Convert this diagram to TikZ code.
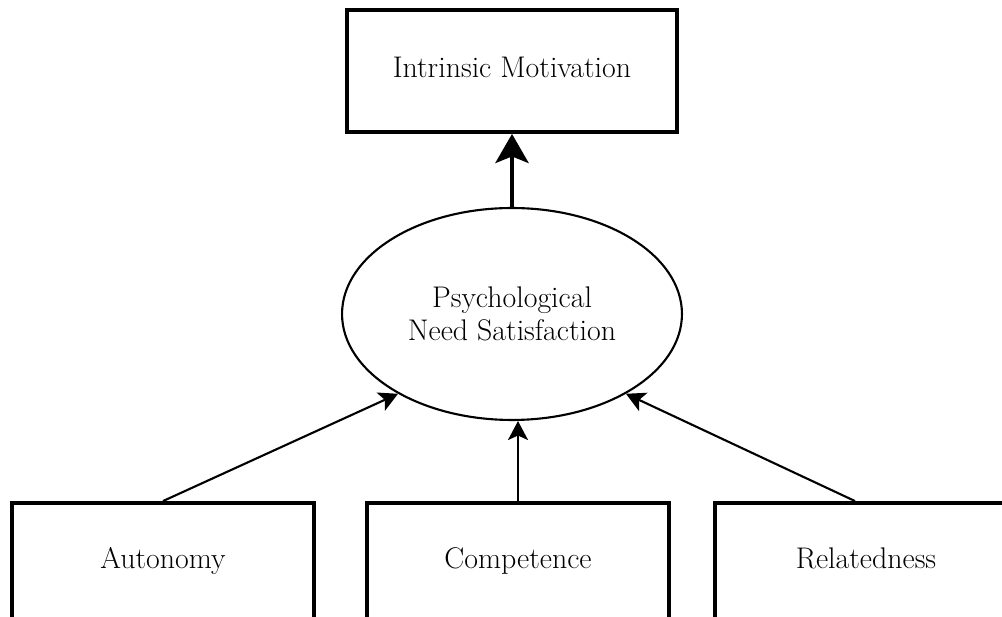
\documentclass[tikz,border=0pt]{standalone}
\usetikzlibrary{positioning,arrows.meta,shapes.geometric}

\begin{document}
\begin{tikzpicture}[
x=0.02cm,y=-0.02cm,
box/.style={rectangle,draw=black,line width=2.2pt,text height=0.72em,text depth=0pt,
minimum width=6.04cm,minimum height=2.36cm,align=center,font=\fontsize{17}{19}\selectfont},
need/.style={ellipse,draw=black,line width=1.2pt,minimum width=6.8cm,minimum height=4.24cm,
align=center,font=\fontsize{17}{19}\selectfont},
arrow/.style={-{Stealth[length=3.8mm,width=4mm,inset=0.9mm]},line width=1.2pt,draw=black},
bigarrow/.style={-{Stealth[length=5.8mm,width=6.6mm,inset=1.3mm]},line width=2.8pt,draw=black}
]
\clip (0,0) rectangle (1002,617);
\node[box,minimum width=6.6cm,minimum height=2.44cm] (intrinsic) at (512,71) {Intrinsic Motivation};
\node[need] (need) at (512,314) {Psychological\\Need Satisfaction};
\node[box] (autonomy) at (163,562) {Autonomy};
\node[box] (competence) at (518,562) {Competence};
\node[box] (relatedness) at (866,562) {Relatedness};
\draw[bigarrow] (need.north) -- (intrinsic.south);
\draw[arrow] (autonomy.north) -- (need.215);
\draw[arrow] (competence.north) -- (competence.north |- need.south);
\draw[arrow] ([xshift=-0.22cm]relatedness.north) -- (need.325);
\end{tikzpicture}
\end{document}
